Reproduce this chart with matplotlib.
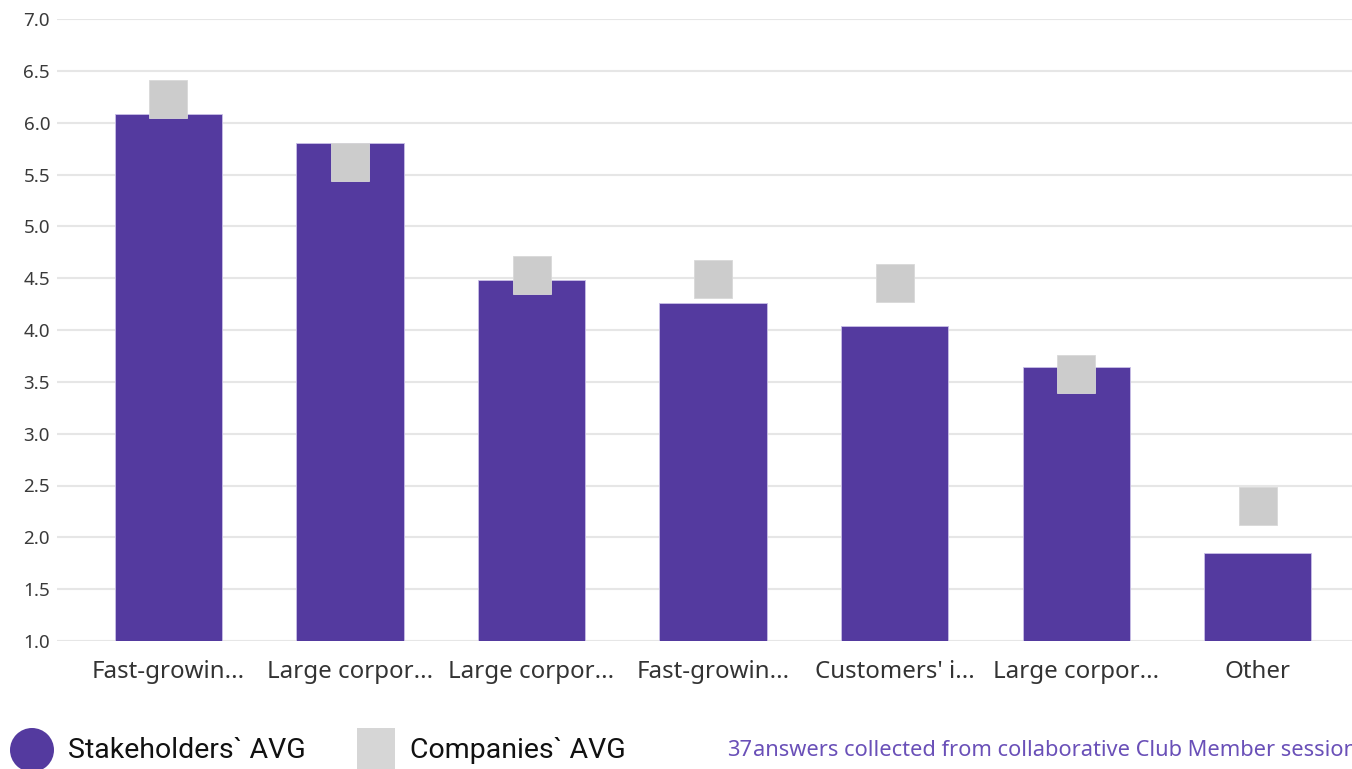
import matplotlib
matplotlib.use("Agg")
import matplotlib.pyplot as plt
from matplotlib.patches import Ellipse, Rectangle

categories = ["Fast-growin...", "Large corpor...", "Large corpor...", "Fast-growin...",
              "Customers' i...", "Large corpor...", "Other"]
stakeholders_avg = [6.08, 5.80, 4.48, 4.26, 4.04, 3.64, 1.85]
companies_avg = [6.23, 5.62, 4.53, 4.49, 4.45, 3.58, 2.30]
yticks = [1.0, 1.5, 2.0, 2.5, 3.0, 3.5, 4.0, 4.5, 5.0, 5.5, 6.0, 6.5, 7.0]
legend_labels = ["Stakeholders` AVG", "Companies` AVG"]
footer_count = "37"
footer_text = "answers collected from collaborative Club Member sessions"

PURPLE = "#543a9f"
GREY = "#cccccc"

plt.rcParams['font.family'] = ['Noto Sans', 'DejaVu Sans']

W, H = 1352, 769
fig = plt.figure(figsize=(W / 100, H / 100), dpi=100)
ax = fig.add_axes([57 / W, (H - 641) / H, 1 - 57 / W, (641 - 19) / H])

x = list(range(len(categories)))
ax.bar(x, [v - 1.0 for v in stakeholders_avg], bottom=1.0, width=0.59,
       color=PURPLE, edgecolor="#c9bfe6", linewidth=0.6, zorder=2)
ax.plot(x, companies_avg, linestyle="none", marker="s", markersize=28,
        markerfacecolor=GREY, markeredgecolor="#d8d8d8", markeredgewidth=0.6, zorder=3)

ax.set_ylim(1.0, 7.0)
ax.set_xlim(-0.614, 6.52)
ax.set_yticks(yticks)
ax.set_yticklabels([f"{t:.1f}" for t in yticks], fontsize=13.5, color="#3a3a3a")
ax.set_xticks(x)
ax.set_xticklabels(categories, fontsize=17.3, color="#333333")
ax.tick_params(axis="both", length=0)
ax.tick_params(axis="x", pad=14)
ax.tick_params(axis="y", pad=5)
ax.yaxis.grid(True, color="#e6e6e6", linewidth=1.5, zorder=0)
ax.set_axisbelow(True)
for s in ax.spines.values():
    s.set_visible(False)

# legend
fig.add_artist(Ellipse((32 / W, (H - 750) / H), 44 / W, 44 / H,
                       transform=fig.transFigure, facecolor=PURPLE, edgecolor="none"))
fig.add_artist(Rectangle((357 / W, (H - 769) / H), 38 / W, 41 / H,
                         transform=fig.transFigure, facecolor="#d6d6d6", edgecolor="none"))
fig.text(68 / W, (H - 751) / H, legend_labels[0], fontsize=20.5, family=["Roboto", "DejaVu Sans"],
         color="#111111", va="center", ha="left")
fig.text(410 / W, (H - 751) / H, legend_labels[1], fontsize=20.5, family=["Roboto", "DejaVu Sans"],
         color="#111111", va="center", ha="left")
fig.text(727 / W, (H - 751) / H, footer_count, fontsize=15.7, color="#6a50b8", va="center", ha="left")
fig.text(753 / W, (H - 751) / H, footer_text, fontsize=15.7, color="#6a50b8", va="center", ha="left")

fig.savefig("out.png", dpi=100)
